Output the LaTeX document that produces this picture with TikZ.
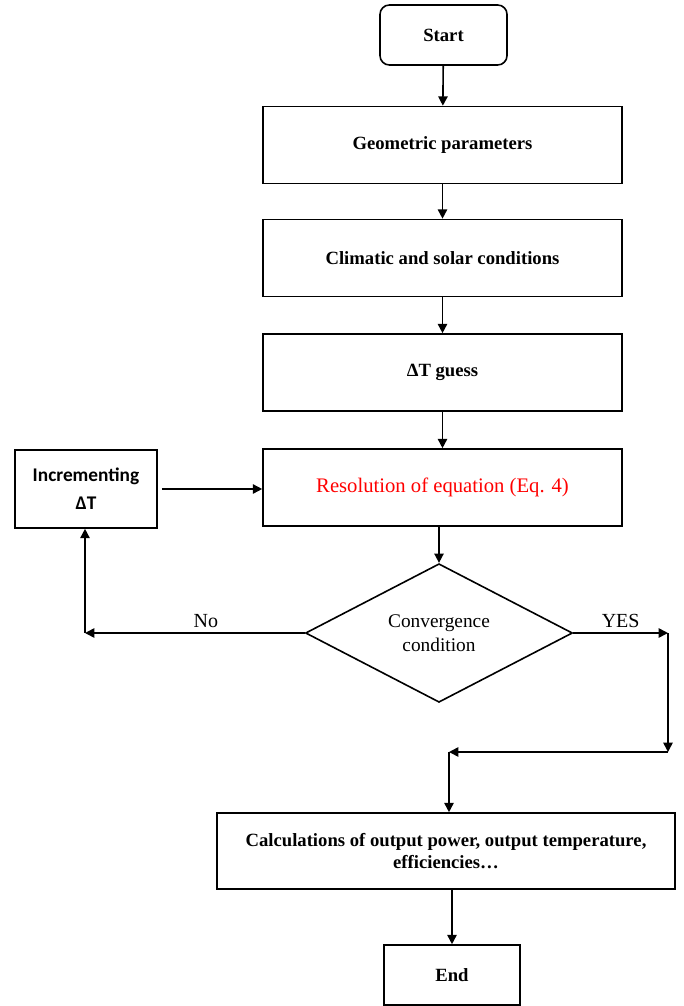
\documentclass[tikz,border=0pt]{standalone}
\usepackage{fontspec}
\setmainfont{Liberation Serif}
\newfontfamily\calibri{Carlito}
\usetikzlibrary{shapes.geometric,arrows.meta}
\begin{document}
\begin{tikzpicture}[x=0.75pt,y=-0.75pt,
        box/.style={shape=rectangle, draw=black, line width=1.2pt, minimum width=269.25pt, minimum height=57.75pt, font=\bfseries\fontsize{14}{17}\selectfont},
        arr/.style={line width=1.2pt, -{Triangle[length=7pt,width=7pt]}},
        lbl/.style={font=\fontsize{15}{18}\selectfont}]

            \useasboundingbox (0,0) rectangle (684,1006);

            \node[box, rounded corners=7pt, minimum width=95.25pt, minimum height=45pt] (Start) at (443.5,35) {Start};
            \node[box] (Geo) at (442.5,145) {Geometric parameters};
            \node[box] (Clim) at (442.5,258) {Climatic and solar conditions};
            \node[box] (Guess) at (442.5,372.5) {ΔT guess};
            \node[box, text=red, font=\fontsize{15.5}{18}\selectfont] (Reso) at (442.5,487.5) {Resolution of equation (Eq. 4)};
            \node[box, minimum width=106.5pt, minimum height=58.5pt, align=center, font=\calibri\bfseries\fontsize{14.5}{21}\selectfont] (Incr) at (86,489) {Incrementing\\ΔT};
            \node[shape=diamond, draw=black, line width=1.2pt, inner sep=0pt, minimum width=200.25pt, minimum height=103.5pt, align=center, font=\fontsize{14.5}{18}\selectfont] (Conv) at (439,633) {Convergence\\condition};
            \node[box, minimum width=343.5pt, minimum height=57pt, align=center] (Calc) at (446,851) {Calculations of output power, output temperature,\\efficiencies…};
            \node[box, minimum width=102pt, minimum height=45pt] (End) at (452,975) {End};

            \coordinate (NoTurn) at (85,633);
            \coordinate (YesTurn) at (668,633);
            \coordinate (YesDown) at (668,752);
            \coordinate (Merge) at (449,752);

            \draw[arr] (Start) -- (Geo);
            \draw[arr] (Geo) -- (Clim);
            \draw[arr] (Clim) -- (Guess);
            \draw[arr] (Guess) -- (Reso);
            \draw[arr] (Reso.south -| Conv.north) -- (Conv.north);
            \draw[arr, shorten <=3pt] (Incr.east) -- (Reso.west |- Incr.east);

            \draw[arr] (Conv.west) -- node[lbl, above, pos=0.45] {No} (NoTurn);
            \draw[arr] (NoTurn) -- (NoTurn |- Incr.south);
            \draw[arr] (Conv.east) -- node[lbl, above, pos=0.5] {YES} (YesTurn);
            \draw[arr] (YesTurn) -- (YesDown);
            \draw[arr] (YesDown) -- (Merge);
            \draw[arr] (Merge) -- (Merge |- Calc.north);
            \draw[arr] (End.north |- Calc.south) -- (End.north);
        \end{tikzpicture}
\end{document}
